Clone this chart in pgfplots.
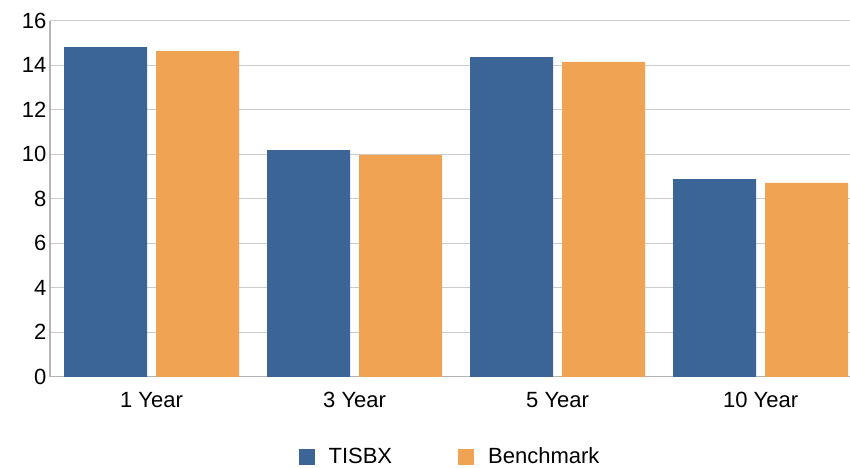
\documentclass[border=0pt]{standalone}
\usepackage{fontspec}
\setmainfont{Liberation Sans}
\usepackage{pgfplots}
\pgfplotsset{compat=1.18}
\definecolor{tblue}{HTML}{3A6596}
\definecolor{torange}{HTML}{EFA353}
\definecolor{gridgray}{HTML}{CCCCCC}
\definecolor{axgray}{HTML}{B4B4B4}
\begin{document}
\begin{tikzpicture}
\path[use as bounding box] (-50pt,-90.2pt) rectangle (800pt,376.8pt);
\begin{axis}[
  at={(0,0)}, anchor=south west,
  scale only axis, width=800pt, height=356pt,
  ybar=9pt, bar width=83pt,
  xmin=-0.5, xmax=3.44, ymin=0, ymax=16,
  xtick={0,1,2,3}, xticklabels={1 Year,3 Year,5 Year,10 Year},
  ytick={0,2,...,16},
  axis x line*=bottom, axis y line*=left,
  axis line style={axgray, line width=1.2pt},
  x axis line style={-}, y axis line style={-},
  major tick length=0pt,
  ymajorgrids, grid style={gridgray, line width=0.9pt},
  /pgf/number format/assume math mode=true,
  ticklabel style={font=\fontsize{22}{26}\selectfont, text=black},
  xticklabel style={yshift=-12pt},
  legend style={at={(0.5,-0.224)}, anchor=center, draw=none, fill=none,
    legend columns=2, font=\fontsize{22}{26}\selectfont,
    /tikz/every odd column/.append style={column sep=12pt},
    /tikz/every even column/.append style={column sep=64pt}},
  legend image code/.code={\fill[#1] (0pt,-8pt) rectangle (16pt,8pt);},
]
\addplot[fill=tblue, draw=none] coordinates {(0,14.82) (1,10.19) (2,14.37) (3,8.89)};
\addplot[fill=torange, draw=none] coordinates {(0,14.64) (1,9.97) (2,14.15) (3,8.72)};
\legend{TISBX, Benchmark}
\end{axis}
\end{tikzpicture}
\end{document}
